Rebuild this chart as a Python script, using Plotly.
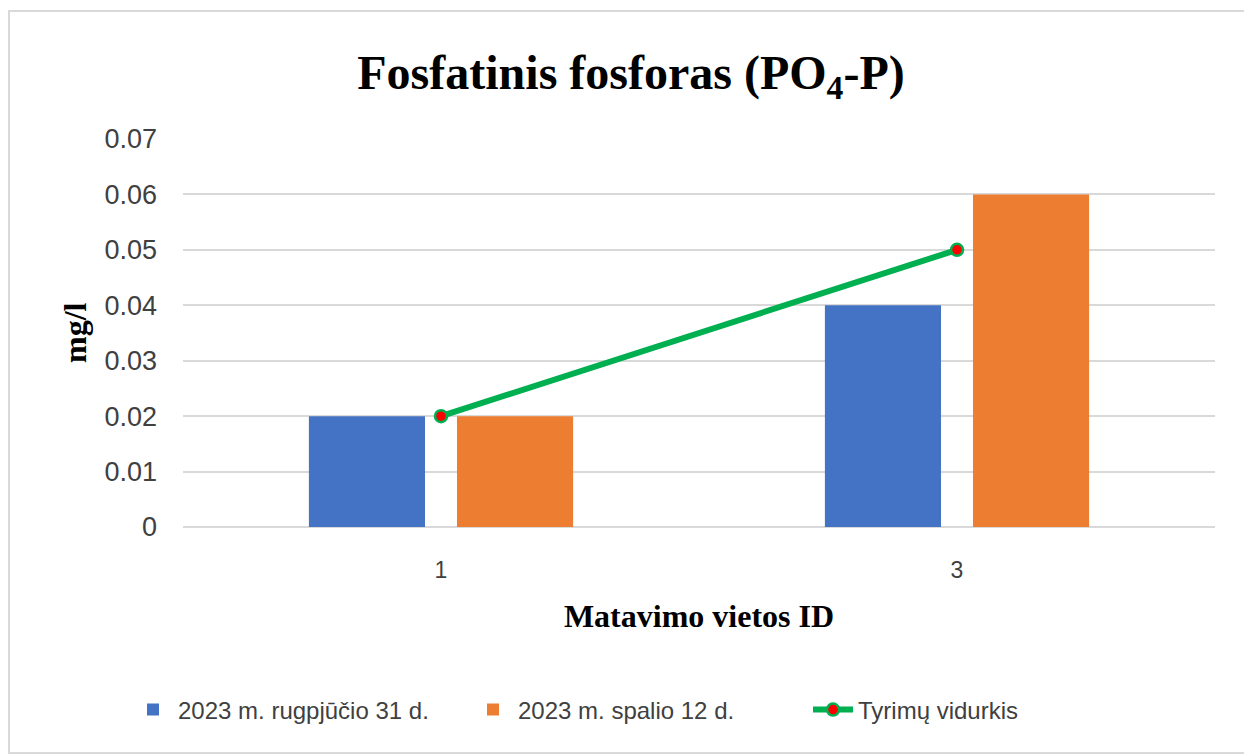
import plotly.graph_objects as go

categories = ["1", "3"]
aug_values = [0.02, 0.04]
oct_values = [0.02, 0.06]
avg_values = [0.02, 0.05]
series_names = ["2023 m. rugpjūčio 31 d.", "2023 m. spalio 12 d.", "Tyrimų vidurkis"]
y_ticks = [0, 0.01, 0.02, 0.03, 0.04, 0.05, 0.06, 0.07]
y_tick_labels = ["0", "0.01", "0.02", "0.03", "0.04", "0.05", "0.06", "0.07"]

# page has an 8px body margin, so the figure is laid out 8px up/left
OFF = 8
W, H = 1252 - OFF, 755 - OFF
ml, mr, mt, mb = 183 - OFF, 37, 139 - OFF, 228
pw, ph = W - ml - mr, H - mt - mb

def px_x(x):
    return (x - OFF - ml) / pw

def px_y(y):
    return (H - mb - (y - OFF)) / ph

fig = go.Figure()
fig.add_trace(go.Bar(x=categories, y=aug_values, name=series_names[0],
                     marker=dict(color="#4472c4", line=dict(width=0))))
fig.add_trace(go.Bar(x=categories, y=oct_values, name=series_names[1],
                     marker=dict(color="#ed7d31", line=dict(width=0))))
fig.add_trace(go.Scatter(x=categories, y=avg_values, name=series_names[2],
                         mode="lines+markers",
                         line=dict(color="#00b050", width=6),
                         marker=dict(color="#ff0000", size=12,
                                     line=dict(color="#00b050", width=2.5))))

fig.update_layout(
    width=W, height=H,
    margin=dict(l=ml, r=mr, t=mt, b=mb, autoexpand=False),
    paper_bgcolor="white", plot_bgcolor="white",
    barmode="group", bargap=0.426, bargroupgap=0.216,
    title=dict(text="<b>Fosfatinis fosforas (PO<sub>4</sub>-P)</b>",
               x=(631 - OFF) / W, xref="container", xanchor="center",
               y=1 - (72 - OFF) / H, yref="container", yanchor="middle",
               font=dict(family="Liberation Serif", size=48, color="black")),
    xaxis=dict(type="category", showgrid=False, showline=False, ticks="",
               tickfont=dict(family="Liberation Sans", size=23, color="#404040"),
               ticklabelstandoff=27,
               title=dict(text="<b>Matavimo vietos ID</b>",
                          font=dict(family="Liberation Serif", size=32, color="black"),
                          standoff=22)),
    yaxis=dict(range=[0, 0.07], tickvals=y_ticks, ticktext=y_tick_labels,
               showgrid=True, gridcolor="#d9d9d9", gridwidth=1.5,
               zeroline=True, zerolinecolor="#d9d9d9", zerolinewidth=1.5,
               showline=False, ticks="",
               tickfont=dict(family="Liberation Sans", size=27, color="#404040"),
               ticklabelstandoff=25),
    legend=dict(orientation="h", x=(128 - OFF) / W, xanchor="left", xref="container",
                y=1 - (710 - OFF) / H, yanchor="middle", yref="container",
                font=dict(family="Liberation Sans", size=24, color="#404040"),
                itemwidth=40, entrywidth=285, traceorder="normal"),
    showlegend=True,
)

fig.add_annotation(text="<b>mg/l</b>", xref="paper", yref="paper",
                   x=px_x(75), y=px_y(333), xanchor="center", yanchor="middle",
                   textangle=-90, showarrow=False,
                   font=dict(family="Liberation Serif", size=32, color="black"))

fig.add_shape(type="rect", xref="paper", yref="paper",
              x0=px_x(9), x1=px_x(1249), y0=px_y(11), y1=px_y(753),
              line=dict(color="#d9d9d9", width=2), fillcolor="rgba(0,0,0,0)",
              layer="below")

fig.write_html("out.html")
